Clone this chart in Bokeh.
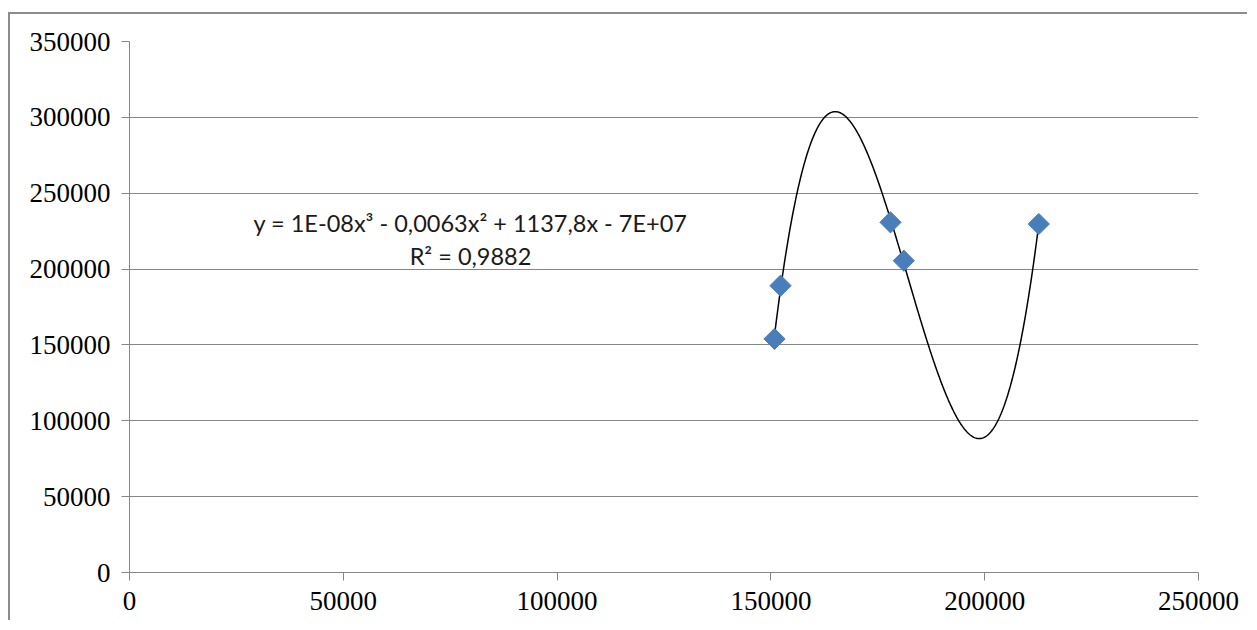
import numpy as np
from bokeh.plotting import figure
from bokeh.models import Range1d, FixedTicker
from bokeh.core.properties import value
from bokeh.embed import file_html
from bokeh.resources import INLINE

# data
x_vals = [150840, 152250, 177970, 181080, 212650]
y_vals = [153950, 189060, 230800, 205500, 229700]
x_ticks = [0, 50000, 100000, 150000, 200000, 250000]
y_ticks = [0, 50000, 100000, 150000, 200000, 250000, 300000, 350000]
eq_text = ["y = 1E-08x³ - 0,0063x² + 1137,8x - 7E+07", "R² = 0,9882"]
eq_x = [79750, 79750]
eq_y = [230600, 208800]

# cubic trendline (least squares, as the spreadsheet does)
xs = np.array(x_vals, dtype=float) / 1e5
coef = np.polyfit(xs, np.array(y_vals, dtype=float), 3)
tx = np.linspace(xs.min(), xs.max(), 400)
ty = np.polyval(coef, tx)

p = figure(width=1239, height=608, output_backend="svg", toolbar_location=None,
           x_range=Range1d(0, 250000), y_range=Range1d(0, 350000),
           min_border_left=119, min_border_right=51, min_border_top=27, min_border_bottom=50)
p.styles = {"border-top": "2px solid #8c8c8c", "border-left": "2px solid #8c8c8c",
            "margin-top": "12px", "margin-left": "8px"}
p.outline_line_color = None
p.background_fill_color = "white"
p.border_fill_color = "white"

for ax in (p.xaxis[0], p.yaxis[0]):
    ax.axis_line_color = "#868686"
    ax.axis_line_width = 1
    ax.major_tick_line_color = "#868686"
    ax.major_tick_out = 8
    ax.major_tick_in = 0
    ax.minor_tick_line_color = None
    ax.major_label_text_font = "Liberation Serif"
    ax.major_label_text_font_size = "27px"
    ax.major_label_text_color = "black"
    ax.major_label_standoff = 11
p.xaxis[0].ticker = FixedTicker(ticks=x_ticks)
p.yaxis[0].ticker = FixedTicker(ticks=y_ticks)
p.xaxis[0].major_label_overrides = {t: str(t) for t in x_ticks}
p.yaxis[0].major_label_overrides = {t: str(t) for t in y_ticks}

p.xgrid.grid_line_color = None
p.ygrid.ticker = FixedTicker(ticks=y_ticks)
p.ygrid.grid_line_color = "#868686"
p.ygrid.grid_line_width = 1

p.line(tx * 1e5, ty, line_color="black", line_width=1.5)
p.scatter(x_vals, y_vals, marker="square", size=15, angle=np.pi / 4,
          fill_color="#4a7ebb", line_color="#4a7ebb")

p.text(x=eq_x, y=eq_y, text=eq_text, text_font=value("Lato"), text_font_size="23.5px",
       text_align="center", text_baseline="middle", text_color="#1a1a1a")

open("out.html", "w").write(file_html(p, INLINE))
